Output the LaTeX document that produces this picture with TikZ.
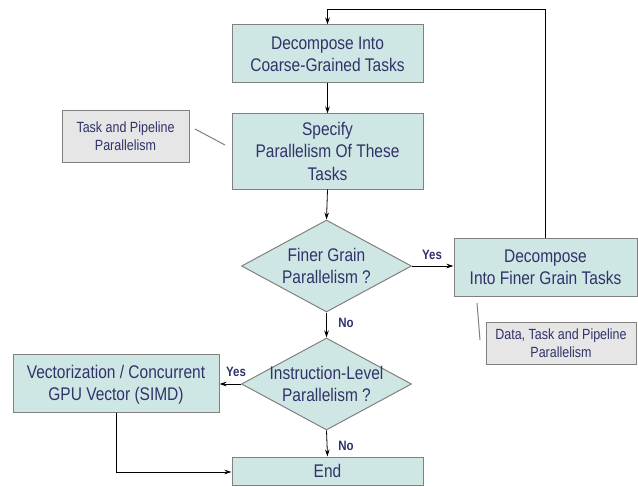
\documentclass[tikz,border=0pt]{standalone}
\usepackage{fontspec}
\usepackage{graphicx}
\setmainfont{Liberation Sans}
\usetikzlibrary{shapes.geometric,arrows.meta}
\definecolor{boxfill}{RGB}{207,231,228}
\definecolor{boxline}{RGB}{128,128,128}
\definecolor{txt}{RGB}{48,50,105}
\definecolor{notefill}{RGB}{230,230,230}
\newcommand{\tallt}[1]{\raisebox{-1.8pt}[\height][\depth]{\scalebox{1}[1.18]{\begin{tabular}{@{}c@{}}#1\end{tabular}}}}
\tikzset{
  procbox/.style={draw=boxline, line width=1pt, fill=boxfill, inner sep=0pt, align=center, text=txt,
     font=\fontsize{15.5}{19}\selectfont},
  decbox/.style={diamond, draw=boxline, line width=1pt, fill=boxfill, inner sep=0pt, minimum width=170pt, minimum height=92pt},
  dectext/.style={align=center, text=txt, inner sep=0pt, font=\fontsize{15.5}{19}\selectfont},
  notebox/.style={draw=boxline, line width=1pt, fill=notefill, inner sep=0pt, align=center, text=txt,
     font=\fontsize{12.5}{15.3}\selectfont},
  conn/.style={draw=black, line width=0.8pt, -{Stealth[length=7pt,width=4.5pt]}},
  noteline/.style={draw=boxline, line width=1pt},
  lab/.style={text=txt, font=\fontsize{11.5}{13}\selectfont\bfseries, inner sep=0pt}
}
\begin{document}
\begin{tikzpicture}[x=1pt,y=-1pt]
\useasboundingbox (0,0) rectangle (638,487);
\node[procbox, minimum width=191pt, minimum height=58pt] (b1) at (327.5,54) {\tallt{Decompose Into\\Coarse-Grained Tasks}};
\node[procbox, minimum width=191pt, minimum height=75pt] (b2) at (327.5,151.5) {\tallt{Specify\\Parallelism Of These\\Tasks}};
\node[notebox, minimum width=127pt, minimum height=51pt] (n1) at (125.5,136.5) {\tallt{Task and Pipeline\\Parallelism}};
\node[decbox] (d1) at (326.5,266) {};
\node[dectext] (t1) at (326.5,266) {\tallt{Finer Grain\\Parallelism ?}};
\node[procbox, minimum width=183pt, minimum height=58pt] (b3) at (545.5,267) {\tallt{Decompose\\Into Finer Grain Tasks}};
\node[notebox, minimum width=150pt, minimum height=42pt] (n2) at (561,343) {\tallt{Data, Task and Pipeline\\Parallelism}};
\node[decbox] (d2) at (326.5,384) {};
\node[dectext] (t2) at (326.5,384) {\tallt{Instruction-Level\\Parallelism ?}};
\node[procbox, minimum width=206pt, minimum height=58pt] (b4) at (116,383) {\tallt{Vectorization / Concurrent\\GPU Vector (SIMD)}};
\node[procbox, minimum width=191pt, minimum height=28pt] (e) at (327.5,471) {\tallt{End}};

\coordinate (n1a) at (195,129);
\coordinate (n1b) at (225,145);
\coordinate (n2a) at (477,303);
\coordinate (n2b) at (480,340);
\draw[noteline] (n1a) -- (n1b);
\draw[noteline] (n2a) -- (n2b);

\draw[conn] (b1) -- (b2);
\draw[conn] (b2.south) -- (d1.north);
\draw[conn] (d1.east) -- (d1.east -| b3.west);
\draw[conn] (d1.south) -- (d2.north);
\draw[conn] (d2.west) -- (d2.west -| b4.east);
\draw[conn] (d2.south) -- (e.north);
\coordinate (lb) at (116,472);
\draw[conn] (b4.south -| lb) -- (lb) -- (lb -| e.west);
\coordinate (tr) at (545,9);
\coordinate (tl) at (327.5,9);
\draw[conn] (b3.north -| tr) -- (tr) -- (tl) -- (b1.north);

\node[lab] (y1) at (432,255) {\tallt{Yes}};
\node[lab] (y2) at (236,372) {\tallt{Yes}};
\node[lab] (no1) at (346,323) {\tallt{No}};
\node[lab] (no2) at (346,446) {\tallt{No}};
\end{tikzpicture}
\end{document}
